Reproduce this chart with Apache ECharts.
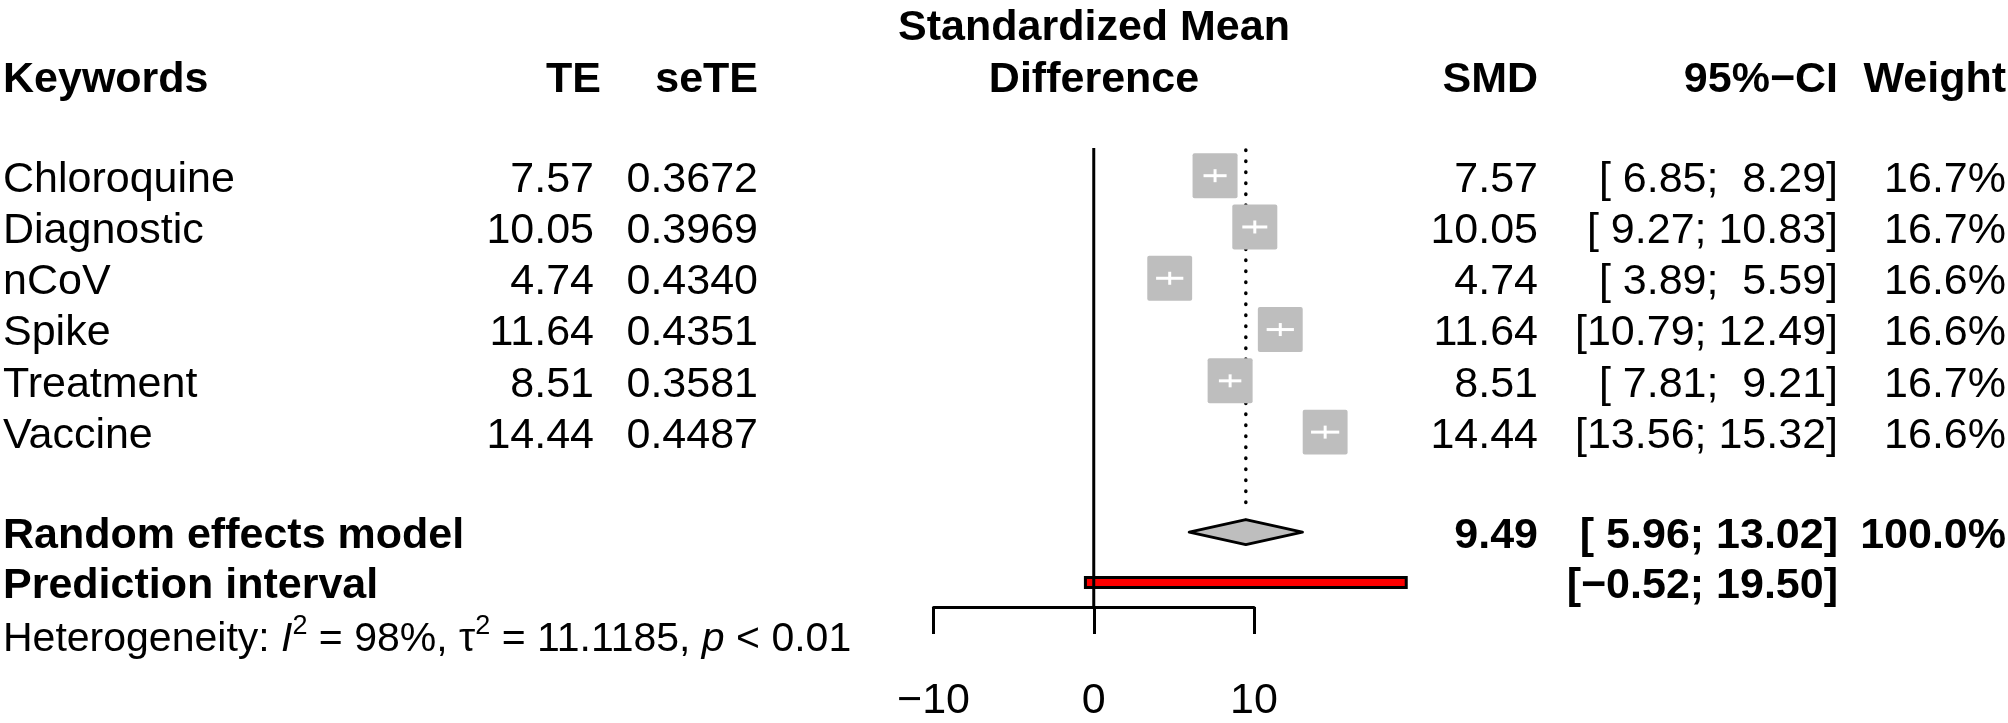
<!DOCTYPE html>
<html>
<head>
<meta charset="utf-8">
<script src="https://cdn.jsdelivr.net/npm/echarts@6/dist/echarts.min.js"></script>
<style>
  html, body { margin: 0; padding: 0; background: #fff; }
  #main { width: 2008px; height: 723px; }
</style>
</head>
<body>
<div id="main"></div>
<script>
// studies
const keywords = ['Chloroquine', 'Diagnostic', 'nCoV', 'Spike', 'Treatment', 'Vaccine'];
const te = [7.57, 10.05, 4.74, 11.64, 8.51, 14.44];
const seTE = [0.3672, 0.3969, 0.4340, 0.4351, 0.3581, 0.4487];
const ciLower = [6.85, 9.27, 3.89, 10.79, 7.81, 13.56];
const ciUpper = [8.29, 10.83, 5.59, 12.49, 9.21, 15.32];
const weights = [16.7, 16.7, 16.6, 16.6, 16.7, 16.6];
// random effects model: SMD, lower, upper
const reModel = [9.49, 5.96, 13.02];
const reWeight = 100.0;
// prediction interval
const predInterval = [-0.52, 19.50];
// heterogeneity
const i2 = 98;
const tau2 = 11.1185;
const pText = '< 0.01';
// x axis ticks
const xTicks = [-10, 0, 10];

const FONT = '"Liberation Sans", Arial, Helvetica, sans-serif';
const FS = 43;
const FS_HET = 41;
const TEXT_DY = 4;   // glyphs sit a bit high with 'middle'

// row positions (y axis units, top to bottom)
const rows = keywords.map((k, i) => i + 1);
const reRow = 7.95;
const piRow = 8.93;
const hetRow = 9.96;
const headRow = -0.94;
const titleRow = -1.96;
const yMin = 0.46, yMax = 9.41;

// column anchors
const colLabel = 3;
const colTEHead = 601, colTE = 594, colSE = 758;
const colSMD = 1538, colCI = 1838, colW = 2006;
const titleX = 1094;

const minus = s => s.replace('-', '\u2212');
const pad = v => minus(v.toFixed(2)).padStart(5, ' ');
const ciText = (lo, hi) => '[' + pad(lo) + '; ' + pad(hi) + ']';

const chart = echarts.init(document.getElementById('main'));

let option = {
  animation: false,
  backgroundColor: '#fff',
  grid: { left: 933.5, right: 754, top: 148, bottom: 96 },
  xAxis: {
    type: 'value',
    min: xTicks[0],
    max: xTicks[xTicks.length - 1],
    interval: 10,
    splitLine: { show: false },
    axisLine: { show: true, lineStyle: { color: '#000', width: 3 } },
    axisTick: { show: true, length: 27, lineStyle: { color: '#000', width: 3 } },
    axisLabel: {
      show: true,
      margin: 73,
      fontSize: FS,
      fontFamily: FONT,
      color: '#000',
      showMinLabel: true,
      showMaxLabel: true,
      formatter: v => minus(String(v))
    }
  },
  yAxis: {
    type: 'value',
    min: yMin,
    max: yMax,
    inverse: true,
    show: false
  },
  series: [
    // dotted line at the pooled estimate
    {
      type: 'custom',
      clip: false,
      silent: true,
      data: [[reModel[0], reRow]],
      renderItem: (params, api) => {
        const top = api.coord([api.value(0), yMin]);
        const bot = api.coord([api.value(0), api.value(1)]);
        return {
          type: 'line',
          shape: { x1: top[0], y1: top[1] + 2, x2: bot[0], y2: bot[1] - 20 },
          style: { stroke: '#000', lineWidth: 3.5, lineDash: [0.5, 10.5], lineCap: 'round' }
        };
      }
    },
    // study squares with CI
    {
      type: 'custom',
      clip: false,
      silent: true,
      data: te.map((v, i) => [v, rows[i], ciLower[i], ciUpper[i], weights[i]]),
      renderItem: (params, api) => {
        const c = api.coord([api.value(0), api.value(1)]);
        const lo = api.coord([api.value(2), api.value(1)]);
        const hi = api.coord([api.value(3), api.value(1)]);
        const s = 45 * Math.sqrt(api.value(4) / 16.7);
        return {
          type: 'group',
          children: [
            { type: 'line', shape: { x1: lo[0], y1: c[1], x2: hi[0], y2: c[1] }, style: { stroke: '#000', lineWidth: 3 } },
            { type: 'rect', shape: { x: c[0] - s / 2, y: c[1] - s / 2, width: s, height: s, r: 2 }, style: { fill: '#bebebe' } },
            { type: 'line', shape: { x1: Math.max(lo[0], c[0] - s / 2), y1: c[1], x2: Math.min(hi[0], c[0] + s / 2), y2: c[1] }, style: { stroke: '#fff', lineWidth: 3 } },
            { type: 'line', shape: { x1: c[0], y1: c[1] - 6.5, x2: c[0], y2: c[1] + 6.5 }, style: { stroke: '#fff', lineWidth: 3 } }
          ]
        };
      }
    },
    // random effects diamond
    {
      type: 'custom',
      clip: false,
      silent: true,
      data: [[reModel[0], reRow, reModel[1], reModel[2]]],
      renderItem: (params, api) => {
        const c = api.coord([api.value(0), api.value(1)]);
        const lo = api.coord([api.value(2), api.value(1)]);
        const hi = api.coord([api.value(3), api.value(1)]);
        const h = 12.5;
        return {
          type: 'polygon',
          shape: { points: [[lo[0], c[1]], [c[0], c[1] - h], [hi[0], c[1]], [c[0], c[1] + h]] },
          style: { fill: '#bebebe', stroke: '#000', lineWidth: 3, lineJoin: 'round' }
        };
      }
    },
    // prediction interval bar
    {
      type: 'custom',
      clip: false,
      silent: true,
      data: [[predInterval[0], predInterval[1], piRow]],
      renderItem: (params, api) => {
        const lo = api.coord([api.value(0), api.value(2)]);
        const hi = api.coord([api.value(1), api.value(2)]);
        const h = 10;
        return {
          type: 'rect',
          shape: { x: lo[0], y: lo[1] - h / 2, width: hi[0] - lo[0], height: h },
          style: { fill: '#ff0000', stroke: '#000', lineWidth: 3 }
        };
      }
    },
    // line of no effect
    {
      type: 'custom',
      clip: false,
      silent: true,
      data: [[0]],
      renderItem: (params, api) => {
        const top = api.coord([api.value(0), yMin]);
        const bot = api.coord([api.value(0), yMax]);
        return {
          type: 'line',
          shape: { x1: top[0], y1: top[1], x2: bot[0], y2: bot[1] },
          style: { stroke: '#000', lineWidth: 3 }
        };
      }
    }
  ]
};
chart.setOption(option);

// table text
const yOf = r => chart.convertToPixel({ yAxisIndex: 0 }, r) + TEXT_DY;
const txt = (text, x, r, align, bold) => ({
  type: 'text',
  x: x,
  y: yOf(r),
  silent: true,
  style: {
    text: text,
    fontSize: FS,
    fontFamily: FONT,
    fontWeight: bold ? 'bold' : 'normal',
    fill: '#000',
    align: align,
    verticalAlign: 'middle'
  }
});

let texts = [];
// header
texts.push(txt('Standardized Mean', titleX, titleRow, 'center', true));
texts.push(txt('Difference', titleX, headRow, 'center', true));
texts.push(txt('Keywords', colLabel, headRow, 'left', true));
texts.push(txt('TE', colTEHead, headRow, 'right', true));
texts.push(txt('seTE', colSE, headRow, 'right', true));
texts.push(txt('SMD', colSMD, headRow, 'right', true));
texts.push(txt('95%\u2212CI', colCI, headRow, 'right', true));
texts.push(txt('Weight', colW, headRow, 'right', true));

// studies
keywords.forEach((k, i) => {
  texts.push(txt(k, colLabel, rows[i], 'left', false));
  texts.push(txt(te[i].toFixed(2), colTE, rows[i], 'right', false));
  texts.push(txt(seTE[i].toFixed(4), colSE, rows[i], 'right', false));
  texts.push(txt(te[i].toFixed(2), colSMD, rows[i], 'right', false));
  texts.push(txt(ciText(ciLower[i], ciUpper[i]), colCI, rows[i], 'right', false));
  texts.push(txt(weights[i].toFixed(1) + '%', colW, rows[i], 'right', false));
});

// pooled rows
texts.push(txt('Random effects model', colLabel, reRow, 'left', true));
texts.push(txt(reModel[0].toFixed(2), colSMD, reRow, 'right', true));
texts.push(txt(ciText(reModel[1], reModel[2]), colCI, reRow, 'right', true));
texts.push(txt(reWeight.toFixed(1) + '%', colW, reRow, 'right', true));
texts.push(txt('Prediction interval', colLabel, piRow, 'left', true));
texts.push(txt(ciText(predInterval[0], predInterval[1]), colCI, piRow, 'right', true));

// heterogeneity
const het = txt('Heterogeneity: {it|I}{sup|2} = ' + i2 + '%, \u03c4{sup|2} = ' + tau2.toFixed(4) + ', {it|p} ' + pText,
  colLabel, hetRow, 'left', false);
het.style.fontSize = FS_HET;
het.style.lineHeight = 52;
het.style.rich = {
  it: { fontStyle: 'italic', fontSize: FS_HET, fontFamily: FONT, fill: '#000', lineHeight: 52 },
  sup: { fontSize: 27, fontFamily: FONT, fill: '#000', lineHeight: 28, verticalAlign: 'top' }
};
texts.push(het);

chart.setOption({ graphic: { elements: texts } });
</script>
</body>
</html>
